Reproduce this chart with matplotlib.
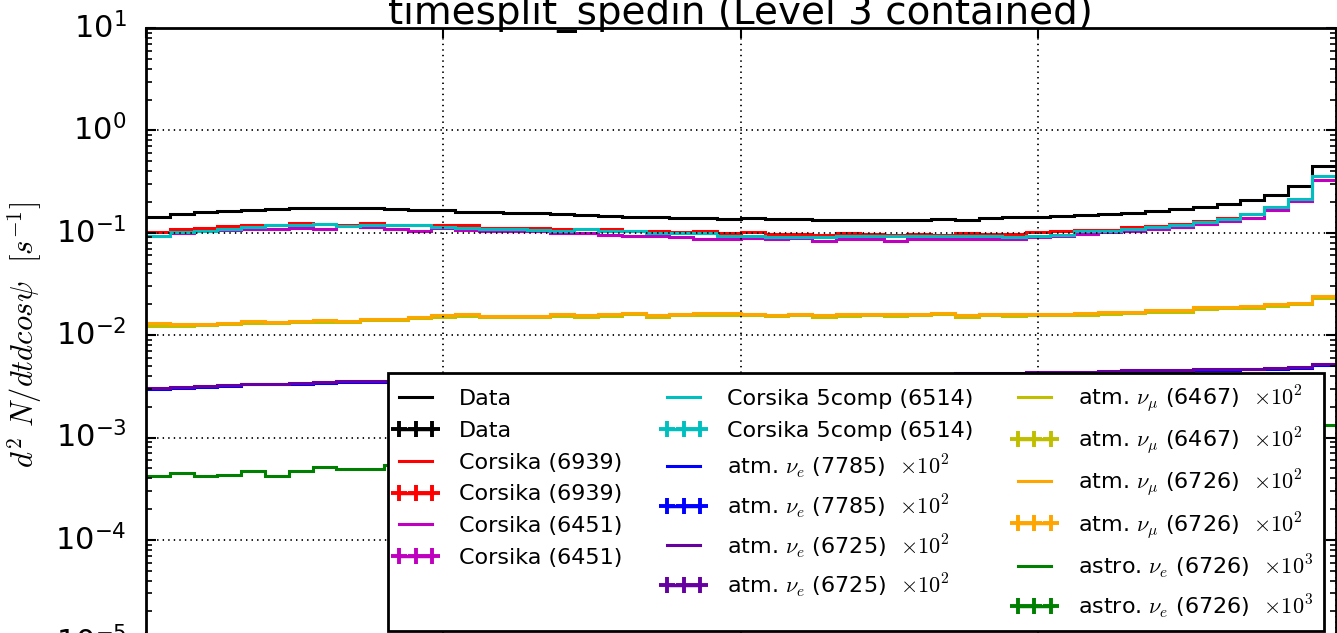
import numpy as np
import matplotlib
matplotlib.use('Agg')
import matplotlib.pyplot as plt
from matplotlib.lines import Line2D
from matplotlib.legend_handler import HandlerLine2D

# ---- values (50 bins in cos(psi), -1..1) ----
bin_edges = np.linspace(-1, 1, 51)

data = [0.142, 0.153, 0.159, 0.162, 0.168, 0.171, 0.174, 0.175, 0.175, 0.174,
        0.169, 0.165, 0.165, 0.160, 0.159, 0.155, 0.155, 0.151, 0.150, 0.147,
        0.144, 0.142, 0.140, 0.139, 0.137, 0.139, 0.137, 0.137, 0.134, 0.134,
        0.134, 0.134, 0.134, 0.136, 0.134, 0.139, 0.141, 0.143, 0.146, 0.149,
        0.151, 0.157, 0.162, 0.170, 0.180, 0.192, 0.210, 0.235, 0.287, 0.447]

corsika_6939 = [0.101, 0.108, 0.112, 0.116, 0.120, 0.120, 0.125, 0.122, 0.120, 0.124,
                0.120, 0.118, 0.120, 0.120, 0.112, 0.112, 0.112, 0.109, 0.110, 0.109,
                0.105, 0.105, 0.102, 0.103, 0.100, 0.101, 0.098, 0.098, 0.096, 0.099,
                0.098, 0.096, 0.098, 0.096, 0.099, 0.098, 0.098, 0.101, 0.104, 0.107,
                0.107, 0.113, 0.117, 0.122, 0.130, 0.140, 0.153, 0.175, 0.215, 0.362]

corsika_6451 = [0.093, 0.099, 0.103, 0.107, 0.109, 0.109, 0.111, 0.109, 0.116, 0.113,
                0.109, 0.105, 0.111, 0.107, 0.105, 0.105, 0.103, 0.099, 0.099, 0.096,
                0.094, 0.092, 0.091, 0.087, 0.087, 0.089, 0.087, 0.089, 0.084, 0.086,
                0.086, 0.084, 0.086, 0.087, 0.086, 0.086, 0.087, 0.091, 0.092, 0.098,
                0.101, 0.105, 0.109, 0.115, 0.121, 0.129, 0.140, 0.168, 0.203, 0.331]

corsika_6514 = [0.094, 0.101, 0.103, 0.109, 0.115, 0.120, 0.120, 0.122, 0.116, 0.118,
                0.120, 0.118, 0.115, 0.112, 0.109, 0.108, 0.107, 0.105, 0.108, 0.105,
                0.103, 0.099, 0.099, 0.099, 0.094, 0.092, 0.091, 0.091, 0.091, 0.092,
                0.092, 0.093, 0.094, 0.093, 0.093, 0.094, 0.091, 0.093, 0.096, 0.105,
                0.104, 0.109, 0.113, 0.120, 0.127, 0.137, 0.151, 0.178, 0.215, 0.357]

nue_7785 = [0.00298, 0.00305, 0.00314, 0.00322, 0.00330, 0.00331, 0.00336, 0.00342, 0.00347, 0.00352,
            0.00348, 0.00353, 0.00357, 0.00362, 0.00361, 0.00365, 0.00370, 0.00369, 0.00373, 0.00377,
            0.00375, 0.00380, 0.00383, 0.00382, 0.00387, 0.00390, 0.00393, 0.00392, 0.00397, 0.00400,
            0.00403, 0.00405, 0.00409, 0.00412, 0.00416, 0.00419, 0.00422, 0.00425, 0.00428, 0.00431,
            0.00434, 0.00443, 0.00446, 0.00449, 0.00453, 0.00458, 0.00462, 0.00466, 0.00480, 0.00515]

nue_6725 = [0.00308, 0.00312, 0.00322, 0.00329, 0.00337, 0.00337, 0.00344, 0.00349, 0.00354, 0.00360,
            0.00354, 0.00362, 0.00366, 0.00370, 0.00368, 0.00374, 0.00378, 0.00376, 0.00381, 0.00385,
            0.00383, 0.00388, 0.00392, 0.00390, 0.00395, 0.00398, 0.00402, 0.00400, 0.00405, 0.00409,
            0.00411, 0.00414, 0.00418, 0.00421, 0.00424, 0.00428, 0.00431, 0.00433, 0.00437, 0.00440,
            0.00443, 0.00452, 0.00455, 0.00458, 0.00462, 0.00468, 0.00472, 0.00475, 0.00488, 0.00527]

numu_6467 = [0.0124, 0.0123, 0.0126, 0.0129, 0.0131, 0.0131, 0.0133, 0.0134, 0.0133, 0.0140,
             0.0141, 0.0146, 0.0152, 0.0155, 0.0150, 0.0149, 0.0151, 0.0155, 0.0152, 0.0155,
             0.0160, 0.0152, 0.0157, 0.0158, 0.0158, 0.0156, 0.0155, 0.0156, 0.0152, 0.0155,
             0.0157, 0.0154, 0.0156, 0.0160, 0.0151, 0.0158, 0.0155, 0.0156, 0.0157, 0.0159,
             0.0162, 0.0164, 0.0168, 0.0170, 0.0181, 0.0183, 0.0186, 0.0193, 0.0200, 0.0230]

numu_6726 = [0.0130, 0.0128, 0.0128, 0.0132, 0.0136, 0.0134, 0.0137, 0.0139, 0.0136, 0.0145,
             0.0145, 0.0150, 0.0159, 0.0162, 0.0154, 0.0154, 0.0154, 0.0160, 0.0156, 0.0160,
             0.0166, 0.0156, 0.0162, 0.0164, 0.0164, 0.0162, 0.0159, 0.0162, 0.0156, 0.0162,
             0.0160, 0.0160, 0.0162, 0.0164, 0.0156, 0.0162, 0.0160, 0.0160, 0.0162, 0.0164,
             0.0168, 0.0168, 0.0175, 0.0175, 0.0188, 0.0188, 0.0192, 0.0200, 0.0208, 0.0239]

astro_nue = [0.000419, 0.000446, 0.000419, 0.000426, 0.000469, 0.000419, 0.000469, 0.000510, 0.000498, 0.000491,
             0.000537, 0.000528, 0.000552, 0.000545, 0.000570, 0.000563, 0.000588, 0.000580, 0.000605, 0.000598,
             0.000624, 0.000615, 0.000642, 0.000655, 0.000648, 0.000676, 0.000668, 0.000697, 0.000710, 0.000702,
             0.000734, 0.000748, 0.000741, 0.000772, 0.000790, 0.000781, 0.000815, 0.000830, 0.000852, 0.000845,
             0.000880, 0.000905, 0.000925, 0.000950, 0.000985, 0.001010, 0.001050, 0.001090, 0.001150, 0.001320]

series = [
    ('Data', data, 'k'),
    ('Corsika (6939)', corsika_6939, 'r'),
    ('Corsika (6451)', corsika_6451, 'm'),
    ('Corsika 5comp (6514)', corsika_6514, 'c'),
    (r'atm. $\nu_e$ (7785)  $\times10^2$', nue_7785, 'b'),
    (r'atm. $\nu_e$ (6725)  $\times10^2$', nue_6725, '#6600a0'),
    (r'atm. $\nu_\mu$ (6467)  $\times10^2$', numu_6467, 'y'),
    (r'atm. $\nu_\mu$ (6726)  $\times10^2$', numu_6726, 'orange'),
    (r'astro. $\nu_e$ (6726)  $\times10^3$', astro_nue, 'g'),
]

plt.style.use('classic')
plt.rcParams['font.family'] = ['DejaVu Sans']
plt.rcParams['mathtext.fontset'] = 'cm'
plt.rcParams['figure.facecolor'] = 'white'
plt.rcParams['savefig.facecolor'] = 'white'

fig = plt.figure(figsize=(13.37, 6.33), dpi=100)
ax = fig.add_axes([0.1092, -0.0147, 0.8897, 0.9705])

handles = []
for label, vals, col in series:
    ax.stairs(vals, bin_edges, baseline=None, color=col, lw=2.2)
    handles.append(Line2D([], [], color=col, lw=2.2, label=label))
    handles.append(Line2D([], [], color=col, lw=2.5, marker='+', ms=11, mew=2.8, label=label))

ax.set_yscale('log')
ax.set_xlim(-1, 1)
ax.set_ylim(1e-5, 1e1)
ax.set_xticks([-1, -0.5, 0, 0.5, 1])
ax.grid(True, color='k', linestyle=':', lw=1.3)
for s in ax.spines.values():
    s.set_linewidth(2)
ax.tick_params(axis='both', which='major', labelsize=22, length=7, width=1.5, pad=14, direction='in')
ax.tick_params(axis='both', which='minor', length=4, width=1.2, direction='in')
ax.tick_params(axis='x', labelbottom=False)

ax.set_title('timesplit_spedin (Level 3 contained)', fontsize=28, pad=3)
ax.set_ylabel(r'$d^2\ N/dtdcos\psi$  $[s^{-1}]$', fontsize=22, labelpad=8)

leg = ax.legend(handles=handles, loc='lower right', ncol=3, fontsize=16,
                numpoints=3, handlelength=1.5, handletextpad=1.2,
                columnspacing=2.0, labelspacing=0.53, borderpad=0.52,
                handler_map={Line2D: HandlerLine2D(marker_pad=0)})
leg.get_frame().set_linewidth(2)
leg.get_frame().set_edgecolor('k')

fig.savefig('out.png', dpi=100)
